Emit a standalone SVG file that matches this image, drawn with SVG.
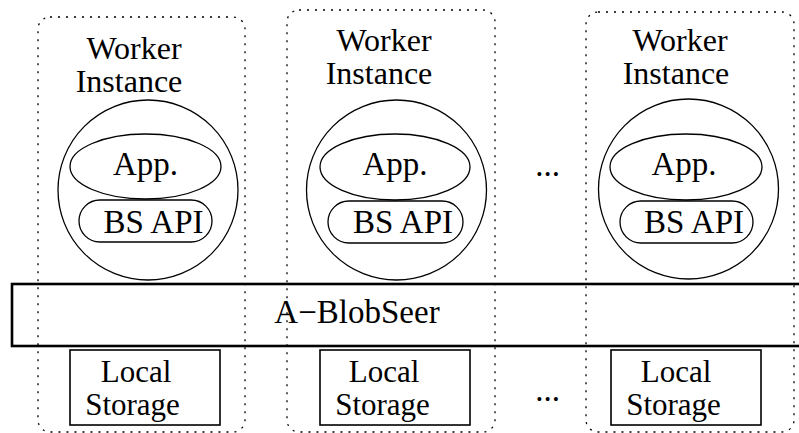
<svg xmlns="http://www.w3.org/2000/svg" width="799" height="433" viewBox="0 0 799 433">
<style>
.box{fill:none;stroke:#000;stroke-width:1.3;stroke-dasharray:2 6}
.ln{fill:none;stroke:#000;stroke-width:1.3}
.ls{fill:none;stroke:#000;stroke-width:1.6}
.bar{fill:none;stroke:#000;stroke-width:2.6}
text{font-family:'Liberation Serif','Times New Roman',serif;font-size:33px;fill:#000;text-anchor:middle}
.sm{font-size:32px}
.st{font-size:31px}
</style>
<rect x="0" y="0" width="799" height="433" fill="#fff"/>
<g id="worker1">
<rect class="box" x="38" y="17" width="207" height="415" rx="12"/>
<text class="sm" x="134" y="59">Worker</text>
<text class="sm" x="129" y="92">Instance</text>
<circle class="ln" cx="148" cy="190" r="90"/>
<ellipse class="ln" cx="145.5" cy="166.5" rx="75.5" ry="32.5"/>
<text x="145.5" y="175">App.</text>
<rect class="ln" x="79" y="200" width="133" height="42" rx="21"/>
<text x="153.5" y="233">BS API</text>
</g>
<g id="worker2">
<rect class="box" x="287" y="10" width="208" height="422" rx="12"/>
<text class="sm" x="384" y="51">Worker</text>
<text class="sm" x="379" y="84">Instance</text>
<circle class="ln" cx="396.5" cy="190" r="90"/>
<ellipse class="ln" cx="395" cy="167" rx="75" ry="33"/>
<text x="395" y="175">App.</text>
<rect class="ln" x="328" y="201" width="135" height="42" rx="21"/>
<text x="403" y="233">BS API</text>
</g>
<g id="worker3">
<rect class="box" x="586" y="12" width="208" height="420" rx="12"/>
<text class="sm" x="680" y="51">Worker</text>
<text class="sm" x="676" y="84">Instance</text>
<circle class="ln" cx="688.5" cy="189" r="90"/>
<ellipse class="ln" cx="686" cy="167" rx="76" ry="33"/>
<text x="684" y="175">App.</text>
<rect class="ln" x="620" y="201" width="133" height="42" rx="21"/>
<text x="694" y="233">BS API</text>
</g>
<g id="blobseer">
<rect class="bar" x="12" y="284" width="800" height="62"/>
<text x="357" y="323">A−BlobSeer</text>
</g>
<g id="storage1">
<rect class="ls" x="70" y="350" width="150" height="75"/>
<text class="st" x="136" y="382">Local</text>
<text class="st" x="132.5" y="415">Storage</text>
</g>
<g id="storage2">
<rect class="ls" x="320" y="350" width="150" height="75"/>
<text class="st" x="384" y="382">Local</text>
<text class="st" x="382.5" y="415">Storage</text>
</g>
<g id="storage3">
<rect class="ls" x="611" y="350" width="150" height="75"/>
<text class="st" x="676" y="382">Local</text>
<text class="st" x="673.5" y="415">Storage</text>
</g>
<g id="ellipsis">
<text x="547.5" y="176">...</text>
<text x="547.5" y="401">...</text>
</g>
<g id="connectors"></g>
</svg>
